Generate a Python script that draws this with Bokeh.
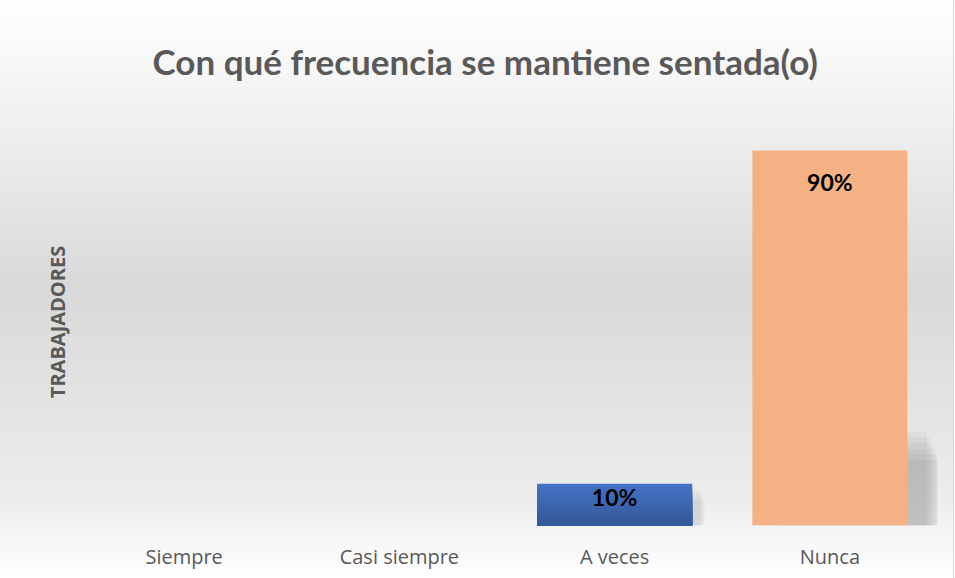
from bokeh.plotting import figure
from bokeh.models import FixedTicker, LinearAxis, Range1d, ColumnDataSource
from bokeh.transform import dodge
from bokeh.core.properties import value
from bokeh.embed import file_html
from bokeh.resources import INLINE

# ---- data ----
categories = ["Siempre", "Casi siempre", "A veces", "Nunca"]
percentages = [0, 0, 10, 90]
bar_colors = ["#4472C4", "#4472C4", "#4472C4", "#F4B183"]
title_text = "Con qué frecuencia se mantiene sentada(o)"
y_label = "TRABAJADORES"

TITLE_FONT = "Lato"
FONT = "Open Sans"
GRAY = "#595959"
BAR_W = 0.72

p = figure(
    x_range=categories, y_range=Range1d(0, 97.7),
    width=953, height=578,
    output_backend="svg", toolbar_location=None,
    min_border_left=76, min_border_right=16, min_border_top=110, min_border_bottom=53,
    border_fill_color=None, background_fill_color=None,
    outline_line_color=None,
    title=title_text,
)
p.styles = {
    "background": "linear-gradient(to bottom, #ffffff 0%, #f5f5f5 14%, #d9d9d9 50%, #ececec 86%, #ffffff 100%)",
    "outline": "1px solid #d9d9d9",
}
p.title.text_font = TITLE_FONT
p.title.text_font_size = "35px"
p.title.text_font_style = "bold"
p.title.text_color = GRAY
p.title.align = "left"
p.title.offset = 76
p.title.standoff = 74

p.xgrid.visible = False
p.ygrid.visible = False
p.yaxis.visible = False

# x axis styling
xa = p.xaxis[0]
xa.axis_line_color = None
xa.major_tick_line_color = None
xa.minor_tick_line_color = None
xa.major_label_text_font = FONT
xa.major_label_text_font_size = "20px"
xa.major_label_text_color = GRAY
xa.major_label_standoff = 11

# y-axis label only
ya = LinearAxis(ticker=FixedTicker(ticks=[]), axis_label=y_label,
                axis_line_color=None, major_tick_line_color=None,
                minor_tick_line_color=None)
ya.axis_label_text_font = FONT
ya.axis_label_text_font_size = "20px"
ya.axis_label_text_font_style = "bold"
ya.axis_label_text_color = GRAY
ya.axis_label_standoff = 6
p.add_layout(ya, "left")

# soft shadows to the lower right of each bar (layers fade outward)
def shadow(cat, max_dx, top, alpha):
    n = 6
    for k in range(n):
        src_k = ColumnDataSource(dict(cat=[cat], top=[top * (1.0 - 0.06 * (n - 1 - k))]))
        p.vbar(x=dodge("cat", max_dx * (1.0 - 0.5 * k / n), range=p.x_range),
               top="top", width=BAR_W, bottom=0, source=src_k,
               fill_color="#7a7a7a", fill_alpha=alpha, line_color=None)

for cat, v in zip(categories, percentages):
    if v <= 0:
        continue
    if v < 20:
        shadow(cat, 0.06, v * 0.85, 0.035)
    else:
        shadow(cat, 0.155, 22.5, 0.085)

# bars; the blue one gets a vertical gradient made of overlapping layers
def shade(hex_color, f):
    r, g, b = int(hex_color[1:3], 16), int(hex_color[3:5], 16), int(hex_color[5:7], 16)
    return "#%02x%02x%02x" % (int(r * f), int(g * f), int(b * f))

N = 24
for cat, v, c in zip(categories, percentages, bar_colors):
    if v <= 0:
        continue
    if cat == "A veces":
        for k in range(N):
            top = v * (N - k) / N
            f = 1.0 - 0.22 * (k / (N - 1))
            p.vbar(x=[cat], bottom=[0], top=[top], width=BAR_W,
                   fill_color=shade(c, f), line_color=None)
    else:
        p.vbar(x=[cat], top=[v], width=BAR_W, fill_color=c, line_color=None)

# data labels
lab_src = ColumnDataSource(dict(
    cat=[c for c, v in zip(categories, percentages) if v > 0],
    y=[v for v in percentages if v > 0],
    txt=["%d%%" % v for v in percentages if v > 0],
    off=[-1 if v < 20 else 17 for v in percentages if v > 0],
))
p.text(x="cat", y="y", text="txt", source=lab_src, y_offset="off",
       text_align="center", text_baseline="top",
       text_font=value(TITLE_FONT), text_font_size="23px", text_font_style="bold",
       text_color="#000000")

open("out.html", "w").write(file_html(p, INLINE))
